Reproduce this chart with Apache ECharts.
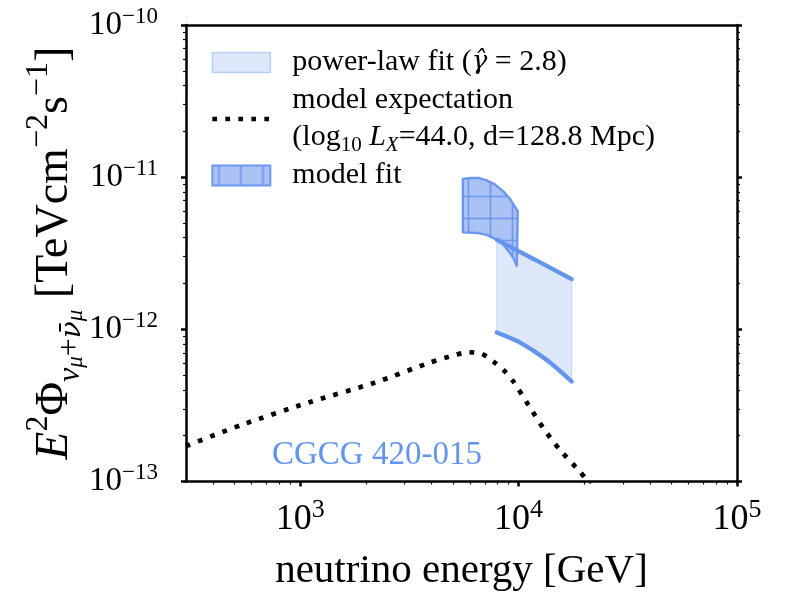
<!DOCTYPE html>
<html><head><meta charset="utf-8">
<script src="https://cdn.jsdelivr.net/npm/echarts@6/dist/echarts.min.js"></script>
<style>html,body{margin:0;padding:0;background:#fff}#c{width:787px;height:593px}</style>
</head><body><div id="c"></div>
<script>
const FONT = '"Liberation Serif", "DejaVu Serif", serif';
const FONT2 = '"DejaVu Serif", "Liberation Serif", serif';
const BLUE = '#6495ED';

// axis ticks
const xTicks = [1e3, 1e4, 1e5];
const xMinor = [400, 500, 600, 700, 800, 900, 2000, 3000, 4000, 5000, 6000, 7000, 8000, 9000,
  20000, 30000, 40000, 50000, 60000, 70000, 80000, 90000];
const yTicks = [1e-13, 1e-12, 1e-11, 1e-10];
const yMinor = [2e-13, 3e-13, 4e-13, 5e-13, 6e-13, 7e-13, 8e-13, 9e-13,
  2e-12, 3e-12, 4e-12, 5e-12, 6e-12, 7e-12, 8e-12, 9e-12,
  2e-11, 3e-11, 4e-11, 5e-11, 6e-11, 7e-11, 8e-11, 9e-11];

// model expectation (dotted)
const modelE = [300, 541, 1091, 2203, 3863, 5117, 5888, 6785, 7670, 8676, 9464, 11090, 12980, 15480, 19100, 21240];
const modelF = [1.71e-13, 2.36e-13, 3.30e-13, 4.47e-13, 6.00e-13, 6.78e-13, 7.07e-13, 6.90e-13, 6.14e-13,
  5.27e-13, 4.54e-13, 3.18e-13, 2.24e-13, 1.61e-13, 1.16e-13, 9.6e-14];

// power-law fit band bounds
const plUpperE = [7943, 11700, 17500];
const plUpperF = [3.88e-12, 2.90e-12, 2.14e-12];
const plLowerE = [7943, 10160, 13460, 17500];
const plLowerF = [9.53e-13, 8.18e-13, 6.29e-13, 4.54e-13];

// model fit region outline (clockwise)
const fitE = [5556, 5998, 6546, 7147, 7800, 8513, 9137, 9910, 9810, 9464, 9137, 8375, 7673, 7147, 6443, 5556];
const fitF = [9.72e-12, 9.88e-12, 9.88e-12, 9.53e-12, 8.93e-12, 8.07e-12, 7.19e-12, 5.96e-12,
  2.62e-12, 2.94e-12, 3.17e-12, 3.69e-12, 3.98e-12, 4.18e-12, 4.30e-12, 4.34e-12];

const N1 = 'power-law fit', N2 = 'model expectation', N3 = 'model fit';

function makeHatch() {
  const s = 22, c = document.createElement('canvas');
  c.width = s; c.height = s;
  const g = c.getContext('2d');
  g.fillStyle = '#abc2f5'; g.fillRect(0, 0, s, s);
  g.strokeStyle = '#6d97ee'; g.lineWidth = 1.6;
  g.beginPath();
  g.moveTo(6.5, 0); g.lineTo(6.5, s);
  g.moveTo(0, 20.5); g.lineTo(s, 20.5);
  g.stroke();
  return c;
}
const hatch = { image: makeHatch(), repeat: 'repeat' };

const yTickRich = {
  b: { fontFamily: FONT, fontSize: 33, lineHeight: 40, color: '#000' },
  s: { fontFamily: FONT, fontSize: 23, lineHeight: 22, verticalAlign: 'top', color: '#000' }
};
const xTickRich = {
  b: { fontFamily: FONT, fontSize: 36, lineHeight: 44, color: '#000' },
  s: { fontFamily: FONT, fontSize: 26, lineHeight: 20, verticalAlign: 'top', color: '#000' }
};
function expLabel(v) {
  const e = Math.round(Math.log10(v));
  return '{b|10}{s|' + (e < 0 ? '\u2212' + (-e) : e) + '}';
}

const chart = echarts.init(document.getElementById('c'), null, { renderer: 'canvas' });
const logX = { type: 'log', min: 300, max: 1e5, logBase: 10, splitLine: { show: false } };
const logY = { type: 'log', min: 1e-13, max: 1e-10, logBase: 10, splitLine: { show: false } };
const spine = { show: true, lineStyle: { color: '#000', width: 2.5 } };
const majTick = (vals) => ({ show: true, customValues: vals, length: 5, lineStyle: { color: '#000', width: 2.5 } });
const minTick = (vals) => ({ show: true, customValues: vals, length: 3, lineStyle: { color: '#000', width: 1.2 } });

const LF = 30, LH = 37;
const option = {
  animation: false,
  backgroundColor: '#fff',
  grid: { left: 186, right: 50, top: 25, bottom: 111.5, outerBoundsMode: 'none', containLabel: false },
  title: {
    text: 'CGCG 420-015', left: 267, top: 430,
    textStyle: { color: BLUE, fontFamily: FONT, fontSize: 33, fontWeight: 'normal', lineHeight: 40 }
  },
  legend: {
    orient: 'vertical', left: 205, top: 39, itemWidth: 58, itemHeight: 20, itemGap: 1,
    selectedMode: false,
    textStyle: {
      fontFamily: FONT, fontSize: LF, lineHeight: LH, color: '#000', padding: [0, 0, 0, 17],
      rich: {
        t: { fontFamily: FONT, fontSize: LF, lineHeight: LH, color: '#000' },
        ti: { fontFamily: FONT, fontSize: LF, lineHeight: LH, fontStyle: 'italic', color: '#000' },
        g: { fontFamily: FONT2, fontSize: 26, lineHeight: LH, fontStyle: 'italic', color: '#000' },
        ls: { fontFamily: FONT, fontSize: 21, lineHeight: 23, verticalAlign: 'bottom', color: '#000' },
        lsi: { fontFamily: FONT, fontSize: 21, lineHeight: 23, verticalAlign: 'bottom', fontStyle: 'italic', color: '#000' }
      }
    },
    formatter: function (name) {
      if (name === N1) return '{t|power-law fit (}{g|\u03b3\u0302}{t| = 2.8)}';
      if (name === N2) return '{t|model expectation}\n{t|(log}{ls|10}{t| }{ti|L}{lsi|X}{t|=44.0, d=128.8 Mpc)}';
      return '{t|model fit}';
    },
    data: [
      { name: N1, icon: 'rect', itemStyle: { color: 'rgba(100,149,237,0.22)', borderColor: 'rgba(100,149,237,0.4)', borderWidth: 1.5 } },
      { name: N2, lineStyle: { color: '#000', width: 4.7, type: [4.7, 8.3], cap: 'butt' },
        itemStyle: { color: 'rgba(0,0,0,0)', borderWidth: 0, opacity: 0 } },
      { name: N3, icon: 'rect', itemStyle: { color: hatch, borderColor: '#6d97ee', borderWidth: 2 } }
    ]
  },
  xAxis: [
    Object.assign({}, logX, {
      position: 'bottom', axisLine: spine, axisTick: majTick(xTicks),
      axisLabel: { customValues: xTicks, margin: 16, formatter: expLabel, rich: xTickRich, color: '#000' },
      name: 'neutrino energy [GeV]', nameLocation: 'middle', nameGap: 67, nameMoveOverlap: false,
      nameTextStyle: { fontFamily: FONT, fontSize: 41, color: '#000', lineHeight: 46 }
    }),
    Object.assign({}, logX, { position: 'bottom', axisLine: { show: false }, axisTick: minTick(xMinor), axisLabel: { show: false } }),
    Object.assign({}, logX, { position: 'top', axisLine: spine, axisTick: { show: false }, axisLabel: { show: false } })
  ],
  yAxis: [
    Object.assign({}, logY, {
      position: 'left', axisLine: spine, axisTick: majTick(yTicks),
      axisLabel: { customValues: yTicks, margin: 28, formatter: expLabel, rich: yTickRich, color: '#000' },
      name: '{i|E}{sp|2}{r|\u03a6}{sbi|\u03bd}{ssi|\u03bc}{sb|+}{sbb|\u03bd\u0304}{ssi|\u03bc}{r| [TeVcm}{sp|\u22122}{r|s}{sp|\u22121}{r|]}',
      nameLocation: 'middle', nameGap: 99, nameMoveOverlap: false,
      nameTextStyle: {
        fontFamily: FONT, fontSize: 46, color: '#000',
        rich: {
          r: { fontFamily: FONT, fontSize: 46, lineHeight: 64, color: '#000' },
          i: { fontFamily: FONT, fontSize: 46, lineHeight: 64, fontStyle: 'italic', color: '#000' },
          sp: { fontFamily: FONT, fontSize: 32, lineHeight: 46, verticalAlign: 'top', color: '#000' },
          sb: { fontFamily: FONT, fontSize: 32, lineHeight: 22, verticalAlign: 'bottom', color: '#000' },
          sbi: { fontFamily: FONT, fontSize: 32, lineHeight: 22, verticalAlign: 'bottom', fontStyle: 'italic', color: '#000' },
          sbb: { fontFamily: FONT2, fontSize: 28, lineHeight: 22, verticalAlign: 'bottom', fontStyle: 'italic', color: '#000' },
          ssi: { fontFamily: FONT, fontSize: 23, lineHeight: 10, verticalAlign: 'bottom', fontStyle: 'italic', color: '#000' }
        }
      }
    }),
    Object.assign({}, logY, { position: 'left', axisLine: { show: false }, axisTick: minTick(yMinor), axisLabel: { show: false } }),
    Object.assign({}, logY, { position: 'right', axisLine: spine, axisTick: majTick(yTicks), axisLabel: { show: false } }),
    Object.assign({}, logY, { position: 'right', axisLine: { show: false }, axisTick: minTick(yMinor), axisLabel: { show: false } })
  ],
  series: [
    {
      name: N1, type: 'custom', xAxisIndex: 0, yAxisIndex: 0, clip: true, z: 2,
      itemStyle: { color: 'rgba(100,149,237,0.22)' },
      data: [[plUpperE[0], plUpperF[0]]],
      renderItem: function (params, api) {
        const pts = [];
        for (let i = 0; i < plUpperE.length; i++) pts.push(api.coord([plUpperE[i], plUpperF[i]]));
        for (let i = plLowerE.length - 1; i >= 0; i--) pts.push(api.coord([plLowerE[i], plLowerF[i]]));
        return { type: 'polygon', shape: { points: pts },
          style: { fill: 'rgba(100,149,237,0.22)', stroke: 'rgba(100,149,237,0.3)', lineWidth: 1 } };
      }
    },
    {
      name: N3, type: 'custom', xAxisIndex: 0, yAxisIndex: 0, clip: true, z: 3,
      itemStyle: { color: hatch },
      data: [[fitE[0], fitF[0]]],
      renderItem: function (params, api) {
        const pts = fitE.map((e, i) => api.coord([e, fitF[i]]));
        return { type: 'polygon', shape: { points: pts },
          style: { fill: hatch, stroke: '#6d97ee', lineWidth: 2.4, lineJoin: 'round' } };
      }
    },
    {
      name: 'pl-upper', type: 'line', xAxisIndex: 0, yAxisIndex: 0, symbol: 'none', smooth: 0.3, z: 4,
      lineStyle: { color: BLUE, width: 4.3, cap: 'round' },
      data: plUpperE.map((e, i) => [e, plUpperF[i]])
    },
    {
      name: 'pl-lower', type: 'line', xAxisIndex: 0, yAxisIndex: 0, symbol: 'none', smooth: 0.3, z: 4,
      lineStyle: { color: BLUE, width: 4.3, cap: 'round' },
      data: plLowerE.map((e, i) => [e, plLowerF[i]])
    },
    {
      name: N2, type: 'line', xAxisIndex: 0, yAxisIndex: 0, symbol: 'none', smooth: 0.25, z: 5,
      lineStyle: { color: '#000', width: 4.7, type: [4.7, 8.3], cap: 'butt' },
      data: modelE.map((e, i) => [e, modelF[i]])
    }
  ]
};
chart.setOption(option);
</script>
</body></html>
